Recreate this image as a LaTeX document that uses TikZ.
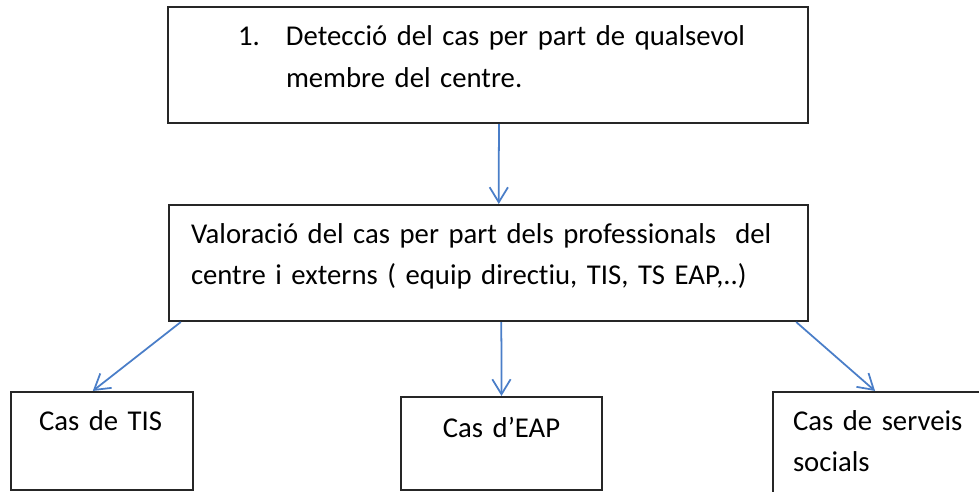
\documentclass[tikz,border=0pt]{standalone}
\usepackage{fontspec}
\setmainfont{Carlito}[Ligatures=NoCommon]
\usetikzlibrary{arrows.meta,calc}
\definecolor{linkblue}{RGB}{74,126,200}

\begin{document}
\begin{tikzpicture}
  [x=0.3mm,y=-0.3mm,
  font=\fontsize{24.5}{35}\selectfont,
  box/.style={draw=black!85,line width=1.8pt,anchor=text,align=left,inner ysep=0pt},
  link/.style={-{Straight Barb[length=4.5mm,width=5.5mm]},draw=linkblue,line width=1.5pt}]

  \useasboundingbox (0,0) rectangle (979,492);

  \node (detect) [box,inner xsep=21mm,text width=150mm,text height=11.7mm,text depth=23.1mm] at (238,46)
    {\mbox{\makebox[14.4mm][l]{1.}Detecció del cas per part de qualsevol}\\\mbox{\hspace*{14.4mm}membre del centre.}};
  \node (valor) [box,inner xsep=6.6mm,text width=178.5mm,text height=11.4mm,text depth=23.4mm] at (191,243)
    {\mbox{Valoració del cas per part dels professionals\ \ del}\\\mbox{centre i externs ( equip directiu, TIS, TS EAP,..)}};

  \node (tis) [box,inner xsep=8.4mm,text width=37.8mm,text height=11.4mm,text depth=18mm] at (39,430) {Cas de TIS};
  \node (eap) [box,align=center,inner xsep=3mm,text width=54.3mm,text height=12mm,text depth=15.9mm] at (411,437) {Cas d’EAP};
  \node (serv) [box,inner xsep=6mm,text width=56.1mm,text height=11.4mm,text depth=21mm] at (793,430) {\mbox{Cas de serveis}\\socials};

  \draw [link] ($(detect.south west)!0.517!(detect.south east)$) -- ($(valor.north west)!0.516!(valor.north east)$);
  \draw [link] ($(valor.south west)!0.02!(valor.south east)$) -- ($(tis.north west)!0.45!(tis.north east)$);
  \draw [link] ($(valor.south west)!0.52!(valor.south east)$) -- ($(eap.north west)!0.5!(eap.north east)$);
  \draw [link] ($(valor.south west)!0.98!(valor.south east)$) -- ($(serv.north west)!0.45!(serv.north east)$);

\end{tikzpicture}
\end{document}
